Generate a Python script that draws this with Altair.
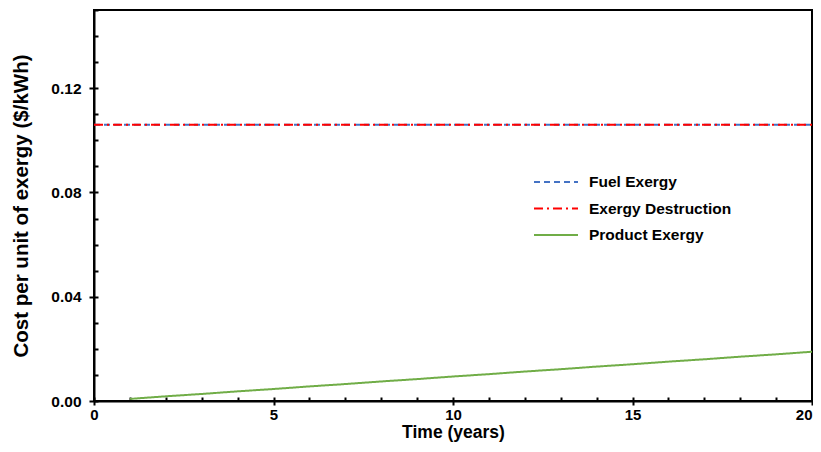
import altair as alt
import pandas as pd

series_names = ["Fuel Exergy", "Exergy Destruction", "Product Exergy"]
series_colors = ["#4472C4", "#FF0000", "#70AD47"]

flat_years = [0, 20]
fuel_exergy = [0.106, 0.106]
exergy_destruction = [0.106, 0.106]

product_years = [1, 2, 3, 4, 5, 6, 7, 8, 9, 10, 11, 12, 13, 14, 15, 16, 17, 18, 19, 20]
product_exergy = [0.0008, 0.0018, 0.0027, 0.0037, 0.0046, 0.0056, 0.0065, 0.0075, 0.0084, 0.0094,
                  0.0103, 0.0113, 0.0122, 0.0132, 0.0141, 0.0151, 0.0160, 0.0170, 0.0179, 0.0189]

x_major = [0, 5, 10, 15, 20]
x_minor = list(range(0, 21))
y_major = [0.0, 0.04, 0.08, 0.12]
y_minor = [0.0, 0.01, 0.02, 0.03, 0.04, 0.05, 0.06, 0.07, 0.08, 0.09, 0.10, 0.11, 0.12, 0.13, 0.14, 0.15]

rows = []
for yr, v in zip(product_years, product_exergy):
    rows.append({"year": yr, "value": v, "series": "Product Exergy", "o": 0})
for yr, v in zip(flat_years, fuel_exergy):
    rows.append({"year": yr, "value": v, "series": "Fuel Exergy", "o": 1})
for yr, v in zip(flat_years, exergy_destruction):
    rows.append({"year": yr, "value": v, "series": "Exergy Destruction", "o": 2})
df = pd.DataFrame(rows)

FONT = "Liberation Sans"
LABEL_SIZE = 15.5
W, H = 718, 391
xscale = alt.Scale(domain=[0, 20], nice=False, zero=False)
yscale = alt.Scale(domain=[0, 0.15], nice=False)

legend_kw = dict(title=None, orient="none", legendX=439, legendY=164,
                 symbolType="stroke", symbolSize=1936, symbolStrokeWidth=2,
                 labelFont=FONT, labelFontSize=LABEL_SIZE, labelFontWeight="bold",
                 labelColor="black", labelOffset=10, clipHeight=16, rowPadding=9.5)

lines = alt.Chart(df).mark_line(strokeWidth=2).encode(
    x=alt.X("year:Q", scale=xscale, title="Time (years)",
            axis=alt.Axis(orient="bottom", values=x_major, format="d", tickSize=4, tickWidth=2,
                          tickColor="black", domainColor="black", domainWidth=2,
                          labelFont=FONT, labelFontSize=15, labelFontWeight="bold", labelColor="black",
                          labelAlign={"condition": {"test": "datum.value === 20", "value": "right"},
                                      "value": "center"},
                          labelPadding=2, titleFont=FONT, titleFontSize=17.5, titleFontWeight="bold",
                          titleColor="black", titlePadding=1, grid=False, labelFlush=False)),
    y=alt.Y("value:Q", scale=yscale, title="Cost per unit of exergy ($/kWh)",
            axis=alt.Axis(orient="left", values=y_major, format=".2f", tickSize=5, tickWidth=2,
                          tickColor="black", domainColor="black", domainWidth=2,
                          labelFont=FONT, labelFontSize=LABEL_SIZE, labelFontWeight="bold", labelColor="black",
                          labelPadding=8, titleFont=FONT, titleFontSize=20.5, titleFontWeight="bold",
                          titleColor="black", titlePadding=19, grid=False, labelFlush=False)),
    color=alt.Color("series:N", sort=series_names,
                    scale=alt.Scale(domain=series_names, range=series_colors),
                    legend=alt.Legend(**legend_kw)),
    strokeDash=alt.StrokeDash("series:N", sort=series_names,
                              scale=alt.Scale(domain=series_names,
                                              range=[[6, 4], [9, 4, 2, 4], [1, 0]]),
                              legend=alt.Legend(**legend_kw)),
    order=alt.Order("o:Q"),
)

ticks_df = pd.DataFrame({"year": [0, 20], "value": [0.0, 0.15]})
inner = alt.Chart(ticks_df).mark_point(opacity=0).encode(
    x=alt.X("year:Q", scale=xscale, title=None,
            axis=alt.Axis(orient="top", offset=-H, values=x_minor, labels=False, domain=False,
                          tickSize=4, tickWidth=2, tickColor="black", grid=False)),
    y=alt.Y("value:Q", scale=yscale, title=None,
            axis=alt.Axis(orient="right", offset=-W, values=y_minor, labels=False, domain=False,
                          tickSize=4, tickWidth=2, tickColor="black", grid=False)),
)

chart = alt.layer(lines, inner).resolve_axis(x="independent", y="independent").properties(
    width=W, height=H,
    autosize=alt.AutoSizeParams(type="none"),
    padding={"left": 86, "top": 2, "right": 1, "bottom": 43},
).configure_view(stroke="black", strokeWidth=2)

chart.save("out.html", embed_options={"renderer": "svg", "actions": False})
